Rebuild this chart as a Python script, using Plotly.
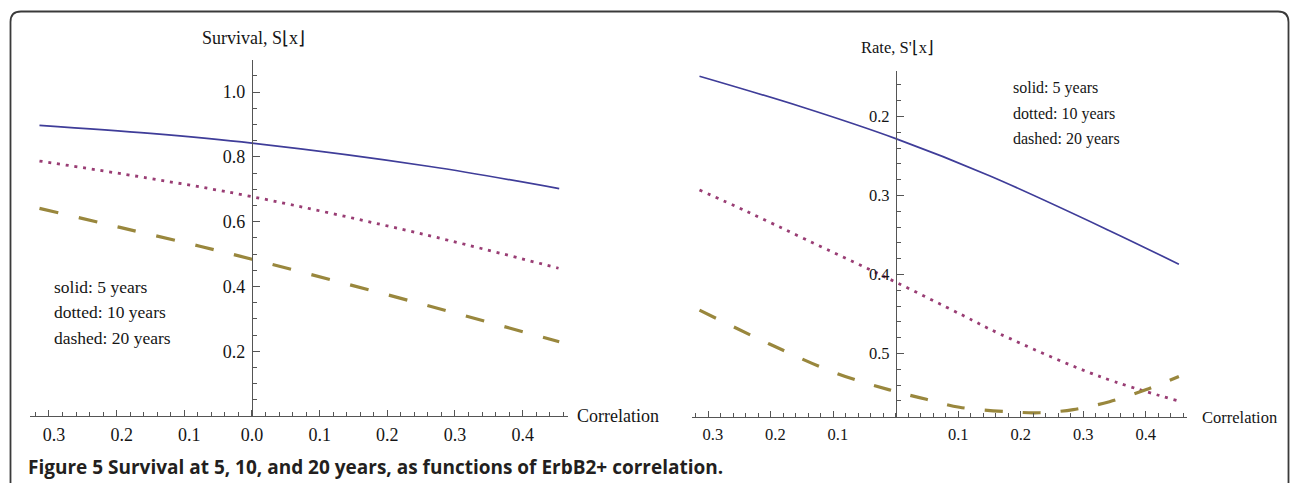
import plotly.graph_objects as go

W, H = 1290, 483

# ---- Survival S(x) at 5, 10 and 20 years versus ErbB2+ correlation ----
surv5_x = [-0.314, -0.15, 0.0, 0.263, 0.454]
surv5 = [0.897, 0.872, 0.842, 0.770, 0.702]

surv10_x = [-0.314, -0.156, 0.0, 0.253, 0.453]
surv10 = [0.787, 0.735, 0.677, 0.561, 0.456]

surv20_x = [-0.314, -0.195, -0.077, 0.0, 0.238, 0.454]
surv20 = [0.641, 0.582, 0.524, 0.484, 0.353, 0.229]

# ---- Rate S'(x) (negative slope of survival) ----
rate5_x = [-0.314, -0.15, 0.0, 0.15, 0.342, 0.453]
rate5 = [-0.149, -0.188, -0.228, -0.275, -0.3445, -0.387]

rate10_x = [-0.314, -0.239, -0.143, -0.012, 0.108, 0.166, 0.326, 0.452]
rate10 = [-0.293, -0.320, -0.356, -0.405, -0.452, -0.475, -0.529, -0.560]

rate20_x = [-0.314, -0.202, -0.095, -0.010, 0.049, 0.102, 0.188, 0.230,
            0.284, 0.342, 0.401, 0.453]
rate20 = [-0.445, -0.488, -0.525, -0.546, -0.558, -0.568, -0.574, -0.575,
          -0.571, -0.561, -0.5455, -0.529]

# Tick positions and labels (minus signs do not print in the figure)
HIDDEN_MINUS = '<span style="color:rgba(0,0,0,0)">\u2212</span>'
surv_xticks = [-0.3, -0.2, -0.1, 0.0, 0.1, 0.2, 0.3, 0.4]
surv_xlabels = [HIDDEN_MINUS + "0.3", HIDDEN_MINUS + "0.2", HIDDEN_MINUS + "0.1",
                "0.0", "0.1", "0.2", "0.3", "0.4"]
surv_yticks = [0.2, 0.4, 0.6, 0.8, 1.0]
surv_ylabels = ["0.2", "0.4", "0.6", "0.8", "1.0"]
rate_xticks = [-0.3, -0.2, -0.1, 0.1, 0.2, 0.3, 0.4]
rate_xlabels = [HIDDEN_MINUS + "0.3", HIDDEN_MINUS + "0.2", HIDDEN_MINUS + "0.1",
                "0.1", "0.2", "0.3", "0.4"]
rate_yticks = [-0.2, -0.3, -0.4, -0.5]
rate_ylabels = ["0.2", "0.3", "0.4", "0.5"]

BLUE = "#3f3d99"
MAGENTA = "#993d74"
OLIVE = "#99873d"
AX = "#555555"
TXT = "#151515"
SERIF = "Liberation Serif"
LEFT_FS = 18      # text size in the survival panel
RIGHT_FS = 16.5   # text size in the rate panel


def px(x):
    return x / W


def py(y):
    return 1 - y / H


fig = go.Figure()

DOT = "3px,5.8px"
DASH = "19px,21px"

fig.add_trace(go.Scatter(x=surv5_x, y=surv5, mode="lines", xaxis="x", yaxis="y",
                         line=dict(color=BLUE, width=1.7, shape="spline")))
fig.add_trace(go.Scatter(x=surv10_x, y=surv10, mode="lines", xaxis="x", yaxis="y",
                         line=dict(color=MAGENTA, width=2.8, dash=DOT, shape="spline")))
fig.add_trace(go.Scatter(x=surv20_x, y=surv20, mode="lines", xaxis="x", yaxis="y",
                         line=dict(color=OLIVE, width=3.2, dash=DASH, shape="spline")))

fig.add_trace(go.Scatter(x=rate5_x, y=rate5, mode="lines", xaxis="x2", yaxis="y2",
                         line=dict(color=BLUE, width=1.7, shape="spline")))
fig.add_trace(go.Scatter(x=rate10_x, y=rate10, mode="lines", xaxis="x2", yaxis="y2",
                         line=dict(color=MAGENTA, width=2.8, dash=DOT, shape="spline")))
fig.add_trace(go.Scatter(x=rate20_x, y=rate20, mode="lines", xaxis="x2", yaxis="y2",
                         line=dict(color=OLIVE, width=3.2, dash="18px,20px", shape="spline")))


def xaxis_cfg(domain, rng, anchor, tickvals, ticktext, fs):
    return dict(domain=domain, range=rng, anchor=anchor, showline=True,
                linecolor=AX, linewidth=1.3, ticks="inside", ticklen=6,
                tickwidth=1.2, tickcolor=AX, tickmode="array", tickvals=tickvals,
                ticktext=ticktext, tickfont=dict(family=SERIF, size=fs, color=TXT),
                showgrid=False, zeroline=False, ticklabelstandoff=2,
                minor=dict(tickmode="linear", tick0=0, dtick=0.02, ticks="inside",
                           ticklen=3.5, tickwidth=1, tickcolor=AX, showgrid=False))


def yaxis_cfg(domain, rng, position, tickvals, ticktext, minor_dtick, fs):
    return dict(domain=domain, range=rng, anchor="free", position=position,
                side="left", showline=True, linecolor=AX, linewidth=1.3,
                ticks="inside", ticklen=7, tickwidth=1.2, tickcolor=AX,
                tickmode="array", tickvals=tickvals, ticktext=ticktext,
                tickfont=dict(family=SERIF, size=fs, color=TXT),
                showgrid=False, zeroline=False, ticklabelstandoff=3,
                minor=dict(tickmode="linear", tick0=0, dtick=minor_dtick,
                           ticks="inside", ticklen=4, tickwidth=1, tickcolor=AX,
                           showgrid=False))


fig.update_layout(
    width=W, height=H, autosize=False,
    margin=dict(l=0, r=0, t=0, b=0, pad=0),
    paper_bgcolor="white", plot_bgcolor="rgba(0,0,0,0)",
    showlegend=False,
    xaxis=xaxis_cfg([px(30), px(568)], [-0.328, 0.467], "y",
                    surv_xticks, surv_xlabels, LEFT_FS),
    yaxis=yaxis_cfg([py(416), py(59.6)], [0, 1.1], px(252),
                    surv_yticks, surv_ylabels, 0.05, LEFT_FS),
    xaxis2=xaxis_cfg([px(692), px(1187)], [-0.326, 0.466], "y2",
                     rate_xticks, rate_xlabels, RIGHT_FS),
    yaxis2=yaxis_cfg([py(416.7), py(70.7)], [-0.58, -0.142], px(896),
                     rate_yticks, rate_ylabels, 0.02, RIGHT_FS),
)

# Rounded frame around the figure (open at the bottom edge)
frame = (f"M {px(10.5)},{py(500)} L {px(10.5)},{py(22)} "
         f"Q {px(10.5)},{py(11.5)} {px(21)},{py(11.5)} "
         f"L {px(1278)},{py(11.5)} Q {px(1288.5)},{py(11.5)} {px(1288.5)},{py(22)} "
         f"L {px(1288.5)},{py(500)}")
fig.add_shape(type="path", path=frame, xref="paper", yref="paper",
              line=dict(color="#3a3a3a", width=1.8))


def label(text, x, y, xanchor="left", size=18, family=SERIF, color=TXT):
    fig.add_annotation(text=text, x=px(x), y=py(y), xref="paper", yref="paper",
                       xanchor=xanchor, yanchor="middle", showarrow=False,
                       font=dict(family=family, size=size, color=color))


# Axis titles
label("Survival, S\u230ax\u230b", 253, 38, xanchor="center", size=LEFT_FS)
label("Rate, S'\u230ax\u230b", 897, 47, xanchor="center", size=RIGHT_FS)
label("Correlation", 575, 416, size=LEFT_FS)
label("Correlation", 1200, 417, size=RIGHT_FS)

# Line-style keys
for (x0, ys, fs) in [(52, [287, 312, 338], 17.5), (1011, [88, 114, 139], 16)]:
    label("solid: 5 years", x0, ys[0], size=fs)
    label("dotted: 10 years", x0, ys[1], size=fs)
    label("dashed: 20 years", x0, ys[2], size=fs)

# Caption
label("<b>Figure 5 Survival at 5, 10, and 20 years, as functions of ErbB2+ correlation.</b>",
      26, 467, size=19, family="Open Sans", color="#231f20")

fig.write_html("out.html")
